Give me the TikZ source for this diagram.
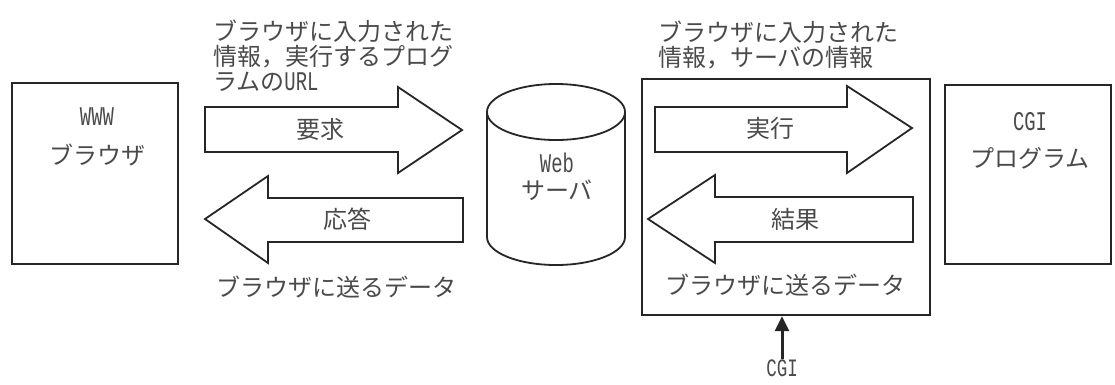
\documentclass[tikz,border=0pt]{standalone}
\usepackage{fontspec}
\setmainfont{Noto Sans CJK JP}
\newfontfamily\lat[FakeStretch=0.7]{Liberation Mono}
\usetikzlibrary{arrows.meta}
\definecolor{txt}{HTML}{4A4A4A}
\tikzset{
  box/.style={draw=black!85, line width=2.4pt, fill=white, inner sep=0pt},
  blockarrow/.style={draw=black!85, line width=1.8pt, line join=miter, fill=white},
  lbl/.style={text=txt, inner sep=0pt, font=\fontsize{24}{25}\selectfont},
  latlbl/.style={text=txt, inner sep=0pt, font=\lat\fontsize{27}{28}\selectfont},
}
\begin{document}
\begin{tikzpicture}[x=1pt,y=-1pt]
\useasboundingbox[fill=white] (0,0) rectangle (1115,384);

% boxes
\node[box, minimum width=166, minimum height=181] (www) at (95,173.5) {};
\node[box, minimum width=288, minimum height=236] (cgibox) at (786,197) {};
\node[box, minimum width=166, minimum height=179] (prog) at (1028,174.5) {};

% cylinder (web server)
\draw[draw=black!85, line width=1.8pt, fill=white]
  (487,112) -- (487,237) arc[start angle=180, end angle=0, x radius=69, y radius=28] -- (625,112);
\draw[draw=black!85, line width=1.8pt, fill=white] (556,112) ellipse [x radius=69, y radius=28];

% block arrows
\draw[blockarrow] (205,107) -- (398,107) -- (398,87) -- (462,130) -- (398,173) -- (398,152) -- (205,152) -- cycle;
\draw[blockarrow] (205,219) -- (268,176) -- (268,198) -- (463,198) -- (463,242) -- (268,242) -- (268,263) -- cycle;
\draw[blockarrow] (655,107) -- (847,107) -- (847,86) -- (912,128) -- (847,173) -- (847,152) -- (655,152) -- cycle;
\draw[blockarrow] (648,219) -- (715,175) -- (715,197) -- (913,197) -- (913,242) -- (715,242) -- (715,263) -- cycle;

% texts
\node[latlbl] (wwwt) at (97,117) {WWW};
\node[lbl] (wwwb) at (97,155) {ブラウザ};
\node[latlbl] (cgit) at (1030,122) {CGI};
\node[lbl] (progt) at (1030,158) {プログラム};
\node[latlbl] (webt) at (557,163) {Web};
\node[lbl] (servt) at (557,190) {サーバ};

\node[lbl] (req) at (320,129) {要求};
\node[lbl] (resp) at (347,219) {応答};
\node[lbl] (exec) at (770,128) {実行};
\node[lbl] (res) at (795,219) {結果};

\node[lbl, align=left, anchor=west] (topl) at (213,56) {ブラウザに入力された\\情報，実行するプログ\\ラムの{\lat\fontsize{27}{25}\selectfont URL}};
\node[lbl, align=left, anchor=west] (topr) at (658,45) {ブラウザに入力された\\情報，サーバの情報};
\node[lbl] (botl) at (336,287) {ブラウザに送るデータ};
\node[lbl] (botr) at (785,285) {ブラウザに送るデータ};

\node[latlbl, anchor=base, font=\lat\fontsize{25}{26}\selectfont] (cgil) at (782,376) {CGI};
\draw[draw=black!85, line width=3pt, -{Triangle[width=14pt,length=15pt]}] (cgil.north) -- (cgil.north |- cgibox.south);
\end{tikzpicture}
\end{document}
